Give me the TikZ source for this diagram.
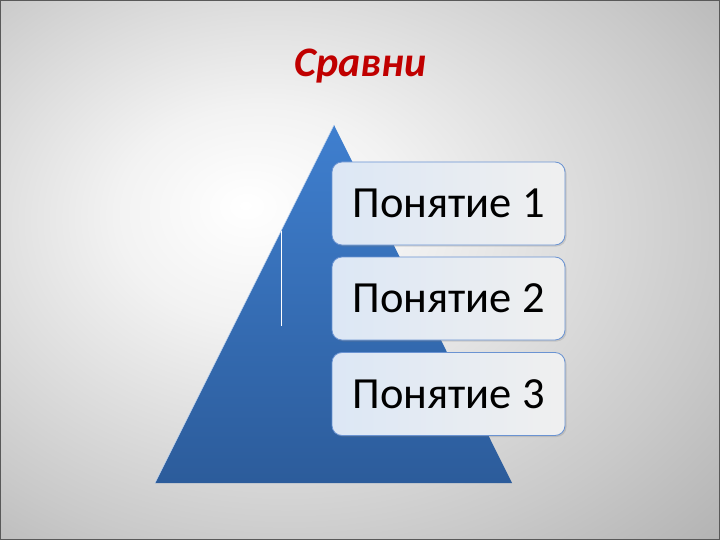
\documentclass[tikz,border=0pt]{standalone}
\usepackage{fontspec}
\setmainfont{Carlito}
\usetikzlibrary{shadows}
\definecolor{titlered}{HTML}{C00000}
\definecolor{tritop}{HTML}{3F7FCF}
\definecolor{tribot}{HTML}{2C5C9B}
\definecolor{boxedge}{HTML}{6A93D2}
\definecolor{boxfill}{HTML}{DCE7F5}
\pgfdeclareradialshading{bgshade}{\pgfpoint{-8bp}{6bp}}{%
  color(0bp)=(white); color(10bp)=(white!95!black);
  color(30bp)=(black!21); color(50bp)=(black!39); color(72bp)=(black!60)}
\tikzset{
  concept/.style={draw=boxedge, line width=0.8pt, rounded corners=10pt,
    left color=boxfill, right color=white!94!black,
    minimum width=233pt, minimum height=83pt, inner sep=0pt,
    font=\fontsize{44.5}{50}\selectfont, text=black,
    drop shadow={opacity=0.25, shadow xshift=1.5pt, shadow yshift=-1.5pt}},
  titletext/.style={text=titlered, font=\fontsize{42}{48}\selectfont\bfseries\itshape}
}
\begin{document}
\begin{tikzpicture}[x=1pt,y=-1pt]
\useasboundingbox (0,0) rectangle (720,540);
\shade[shading=bgshade] (0,0) rectangle (720,540);
\draw[black!65, line width=1pt] (0.5,0.5) rectangle (719.5,539.5);
% title
\node[titletext, anchor=base] (title) at (360.5,77) {Сравни};
% pyramid
\coordinate (apex) at (334,125);
\coordinate (bl) at (155,483);
\coordinate (br) at (512,483);
\shade[top color=tritop, bottom color=tribot] (apex) -- (br) -- (bl) -- cycle;
\draw[white!70!tritop, line width=0.6pt] (bl) -- (apex);
% thin white line
\coordinate (l1) at (281,231);
\coordinate (l2) at (281,326);
\draw[white, line width=1pt] (l1) -- (l2);
% concept boxes
\node[concept] (c1) at (448.5,203.5) {Понятие 1};
\node[concept] (c2) at (448.5,298.5) {Понятие 2};
\node[concept] (c3) at (448.5,394) {Понятие 3};
\end{tikzpicture}
\end{document}
